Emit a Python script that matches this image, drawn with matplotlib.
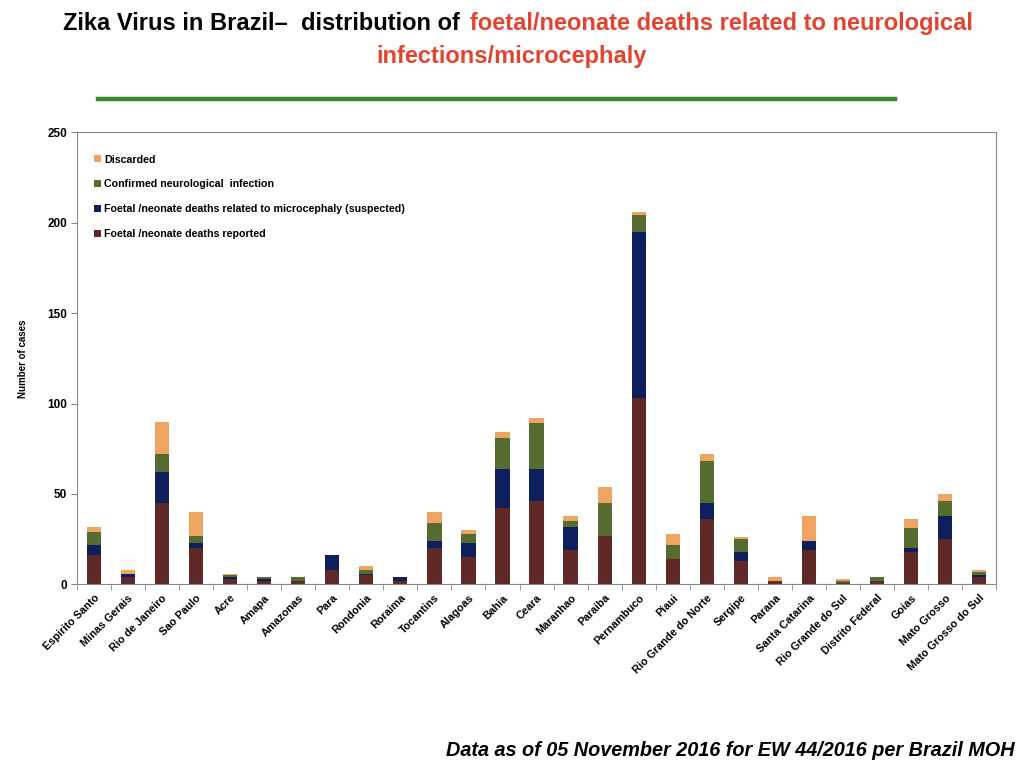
import numpy as np
import matplotlib
matplotlib.use("Agg")
import matplotlib.pyplot as plt
from matplotlib.patches import Patch
from matplotlib.lines import Line2D

plt.rcParams['font.family'] = ['Liberation Sans', 'DejaVu Sans']

states = ["Espirito Santo", "Minas Gerais", "Rio de Janeiro", "Sao Paulo", "Acre",
          "Amapa", "Amazonas", "Para", "Rondonia", "Roraima", "Tocantins", "Alagoas",
          "Bahia", "Ceara", "Maranhao", "Paraiba", "Pernambuco", "Piaui",
          "Rio Grande do Norte", "Sergipe", "Parana", "Santa Catarina",
          "Rio Grande do Sul", "Distrito Federal", "Goias", "Mato Grosso",
          "Mato Grosso do Sul"]

# stacked from the bottom up
reported = [16, 4, 45, 20, 3, 2, 2, 8, 5, 2, 20, 15, 42, 46, 19, 27, 103, 14, 36, 13, 2, 19, 1, 2, 18, 25, 4]
suspected = [6, 2, 17, 3, 1, 1, 0, 8, 1, 2, 4, 8, 22, 18, 13, 0, 92, 0, 9, 5, 0, 5, 0, 0, 2, 13, 1]
confirmed = [7, 0, 10, 4, 1, 1, 2, 0, 2, 0, 10, 5, 17, 25, 3, 18, 9, 8, 23, 7, 0, 0, 1, 2, 11, 8, 2]
discarded = [3, 2, 18, 13, 1, 0, 0, 0, 2, 0, 6, 2, 3, 3, 3, 9, 2, 6, 4, 1, 2, 14, 1, 0, 5, 4, 1]

series = [
    ("Foetal /neonate deaths reported", reported, "#5e2926"),
    ("Foetal /neonate deaths related to microcephaly (suspected)", suspected, "#0e1f5e"),
    ("Confirmed neurological  infection", confirmed, "#566b30"),
    ("Discarded", discarded, "#eea562"),
]

fig = plt.figure(figsize=(10.24, 7.68), dpi=100)
ax = fig.add_axes([0.075, 0.239, 0.898, 0.589])

x = np.arange(len(states))
bottom = np.zeros(len(states))
for label, vals, col in series:
    vals = np.array(vals, dtype=float)
    ax.bar(x, vals, width=0.42, bottom=bottom, color=col, edgecolor="none")
    bottom += vals

ax.set_xlim(-0.5, len(states) - 0.5)
ax.set_ylim(0, 250)
ax.set_yticks([0, 50, 100, 150, 200, 250])
ax.set_yticklabels(["0", "50", "100", "150", "200", "250"], fontsize=8.5, fontweight="bold")
ax.set_xticks(x)
ax.set_xticklabels(states, rotation=45, ha="right", rotation_mode="anchor",
                   fontsize=7.8, fontweight="bold")
ax.tick_params(axis="x", length=0, pad=6)
ax.set_xticks(np.arange(-0.5, len(states)), minor=True)
ax.tick_params(axis="x", which="minor", length=4, color="#888888")
ax.tick_params(axis="y", length=4, color="#888888", pad=3)
for sp in ax.spines.values():
    sp.set_color("#888888")
ax.set_ylabel("Number of cases", fontsize=7, fontweight="bold", labelpad=14)

handles = [Patch(facecolor=c, edgecolor="none", label=l) for l, v, c in series[::-1]]
ax.legend(handles=handles, loc="upper left", bbox_to_anchor=(0.011, 0.967), frameon=False,
          prop={"size": 7.7, "weight": "bold"}, handlelength=0.6, handleheight=0.6,
          handletextpad=0.3, labelspacing=1.4, borderaxespad=0.3)

# title in two colours
red = "#e0452f"
tfont = ["Liberation Sans Narrow", "Liberation Sans", "DejaVu Sans"]
fig.text(0.456, 0.969, "Zika Virus in Brazil\u2013  distribution of ", ha="right", va="center",
         fontsize=17, fontweight="bold", color="black", family=tfont)
fig.text(0.459, 0.969, "foetal/neonate deaths related to neurological", ha="left", va="center",
         fontsize=17, fontweight="bold", color=red, family=tfont)
fig.text(0.5, 0.927, "infections/microcephaly", ha="center", va="center",
         fontsize=17, fontweight="bold", color=red, family=tfont)

fig.add_artist(Line2D([0.096, 0.874], [0.871, 0.871], color="#3b8a2c", linewidth=3.2,
                      transform=fig.transFigure))

fig.text(0.991, 0.023, "Data as of 05 November 2016 for EW 44/2016 per Brazil MOH", ha="right",
         va="center", fontsize=14.3, fontweight="bold", style="italic")

fig.savefig("out.png", dpi=100)
